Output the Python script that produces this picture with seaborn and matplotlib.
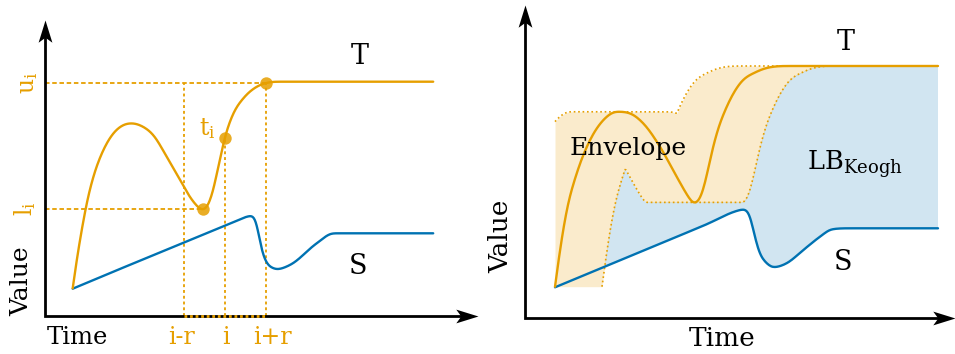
import numpy as np
import pandas as pd
import matplotlib
matplotlib.use("Agg")
import matplotlib.pyplot as plt
import seaborn as sns
from matplotlib.path import Path

# ---------------------------------------------------------------- data
# Left panel: query T and candidate S (time, value) key points
left_T_time = [27.7, 31.7, 36.7, 41.7, 48.3, 58.3, 68.3, 78.3, 86.7, 96.7, 108.3, 121.7, 135,
               148.3, 157.7, 163.3, 168.3, 173.3, 180, 188.3, 198.3, 211.7, 222.3, 235, 388]
left_T_value = [27.7, 56, 86, 113, 139.3, 166, 182.7, 191, 192.7, 190, 181, 159.3, 136,
                114.3, 106, 111, 126, 149.3, 179.3, 202.7, 217.7, 229.3, 233.3, 234.3, 234.3]
left_S_time = [27.7, 70, 110, 150, 190, 201.7, 206.7, 211.7, 215, 220, 228.3, 231.7, 245,
               271.7, 288.3, 388]
left_S_value = [27.3, 45, 61.5, 78, 94.5, 99.3, 100.3, 94.3, 72.7, 56, 47.7, 46.7, 51,
                72.7, 82.7, 82.7]
point_i = 180        # position i on the time axis
window_r = 41        # warping window radius r

# Right panel: query T and candidate S
right_T_time = [30, 35, 41.7, 51.7, 65, 78.3, 91.7, 105, 118.3, 135, 151.7, 163.3, 168.3,
                174.3, 180, 185, 191.7, 201.7, 215, 231.7, 248.3, 265, 413]
right_T_value = [31.3, 68, 108, 144.7, 178, 198, 206.3, 204.7, 194.7, 171.3, 141.3, 121.3, 114.7,
                 118, 134.7, 158, 184.7, 211.3, 234.7, 246.3, 251.3, 252, 252]
right_S_time = [30, 80, 130, 180, 215, 218.3, 225, 228.3, 233.3, 241.7, 248.3, 261.7, 278.3,
                295, 306.7, 325, 413]
right_S_value = [30.7, 51.5, 72.3, 93, 108, 108.7, 103, 88, 68, 54.7, 50.7, 54.7, 68,
                 81.3, 88.7, 89.7, 89.7]
envelope_r = 47

ORANGE = "#E69F00"
BLUE = "#0072B2"


def smooth(xk, yk, step=0.5, sigma=2.5):
    """Cubic Hermite curve through the key points, lightly rounded by a Gaussian kernel."""
    xk = np.asarray(xk, float)
    yk = np.asarray(yk, float)
    h = np.diff(xk)
    d = np.diff(yk) / h
    n = len(xk)
    m = np.zeros(n)
    for k in range(1, n - 1):
        s0, s1 = d[k - 1], d[k]
        if s0 * s1 <= 0:
            continue
        p = (s0 * h[k] + s1 * h[k - 1]) / (h[k - 1] + h[k])
        lim = 3 * min(abs(s0), abs(s1))
        m[k] = np.sign(p) * min(abs(p), lim)
    m[0] = 1.5 * d[0] - 0.5 * m[1]
    m[-1] = 1.5 * d[-1] - 0.5 * m[-2]
    if m[0] * d[0] < 0:
        m[0] = 0.0
    if m[-1] * d[-1] < 0:
        m[-1] = 0.0
    xs = np.arange(xk[0], xk[-1] + step / 2, step)
    idx = np.clip(np.searchsorted(xk, xs, side="right") - 1, 0, n - 2)
    t = (xs - xk[idx]) / h[idx]
    h00 = 2 * t**3 - 3 * t**2 + 1
    h10 = t**3 - 2 * t**2 + t
    h01 = -2 * t**3 + 3 * t**2
    h11 = t**3 - t**2
    ys = h00 * yk[idx] + h10 * h[idx] * m[idx] + h01 * yk[idx + 1] + h11 * h[idx] * m[idx + 1]
    # rounding kernel; odd reflection at the ends keeps the end points and slopes
    s = sigma / step
    half = int(np.ceil(3 * s))
    kern = np.exp(-0.5 * (np.arange(-half, half + 1) / s) ** 2)
    kern /= kern.sum()
    head = 2 * ys[0] - ys[half:0:-1]
    tail = 2 * ys[-1] - ys[-2:-half - 2:-1]
    ys = np.convolve(np.concatenate([head, ys, tail]), kern, mode="valid")
    return xs, ys


def envelope(xs, ys, r):
    step = xs[1] - xs[0]
    w = int(round(r / step))
    up = np.empty_like(ys)
    lo = np.empty_like(ys)
    for j in range(len(ys)):
        a, b = max(0, j - w), min(len(ys), j + w + 1)
        up[j] = ys[a:b].max()
        lo[j] = ys[a:b].min()
    return up, lo


# stealth-style arrow heads (tip at the marker origin)
HEAD_RIGHT = Path([(0, 0), (-2, 0.62), (-1.55, 0), (-2, -0.62), (0, 0)],
                  [Path.MOVETO, Path.LINETO, Path.LINETO, Path.LINETO, Path.CLOSEPOLY])
HEAD_UP = Path([(0, 0), (0.62, -2), (0, -1.55), (-0.62, -2), (0, 0)],
               [Path.MOVETO, Path.LINETO, Path.LINETO, Path.LINETO, Path.CLOSEPOLY])


def draw_frame(ax, xmax, ymax):
    ax.plot([0, 0, xmax - 10], [ymax - 10, 0, 0], color="black", lw=2.0,
            solid_joinstyle="miter", solid_capstyle="butt", clip_on=False, zorder=5)
    ax.plot([xmax], [0], marker=HEAD_RIGHT, ms=32, color="black", mew=0, clip_on=False, zorder=6)
    ax.plot([0], [ymax], marker=HEAD_UP, ms=32, color="black", mew=0, clip_on=False, zorder=6)
    ax.set_axis_off()


sns.set_style("white")
plt.rcParams["font.family"] = ["DejaVu Serif"]
plt.rcParams["mathtext.fontset"] = "dejavuserif"
plt.rcParams["text.color"] = "black"

fig = plt.figure(figsize=(9.55, 3.54), dpi=100)
axL = fig.add_axes([45 / 955, 38 / 354, 433 / 955, 296 / 354])
axR = fig.add_axes([525 / 955, 36 / 354, 430 / 955, 313 / 354])
axL.set_xlim(0, 433)
axL.set_ylim(0, 296)
axR.set_xlim(0, 430)
axR.set_ylim(0, 313)

# ---------------------------------------------------------------- left panel
lTx, lTy = smooth(left_T_time, left_T_value)
lSx, lSy = smooth(left_S_time, left_S_value)
left = pd.DataFrame({"time": lTx, "T": lTy})
win = left[(left.time >= point_i - window_r) & (left.time <= point_i + window_r)]
u_time, u_val = win.loc[win["T"].idxmax(), ["time", "T"]]
l_time, l_val = win.loc[win["T"].idxmin(), ["time", "T"]]
t_val = np.interp(point_i, lTx, lTy)

dash_h = dict(color=ORANGE, lw=1.3, dashes=(2.5, 1.5), zorder=2)
dash_v = dict(color=ORANGE, lw=1.3, dashes=(1.6, 1.6), zorder=2)
axL.plot([0, u_time], [u_val, u_val], **dash_h)
axL.plot([0, l_time], [l_val, l_val], **dash_h)
axL.plot([point_i - window_r] * 2, [0, u_val], **dash_v)
axL.plot([point_i] * 2, [0, t_val], **dash_v)
axL.plot([point_i + window_r] * 2, [0, u_val], **dash_v)

sns.lineplot(x=lSx, y=lSy, ax=axL, color=BLUE, lw=1.7, sort=False, estimator=None, zorder=3)
sns.lineplot(x=lTx, y=lTy, ax=axL, color=ORANGE, lw=1.7, sort=False, estimator=None, zorder=3)
sns.scatterplot(x=[l_time, point_i, u_time], y=[l_val, t_val, u_val], ax=axL,
                color=ORANGE, s=80, linewidth=0, alpha=0.85, zorder=4)

draw_frame(axL, 433, 296)
axL.plot([point_i - window_r, point_i + window_r], [0, 0], color=ORANGE, lw=2.0,
         dashes=(1.0, 1.0), clip_on=False, zorder=7)

axL.text(315, 259, "T", ha="center", va="center", fontsize=19.5)
axL.text(313, 50, "S", ha="center", va="center", fontsize=19.5)
axL.text(-23, 0, "Value", rotation=90, ha="center", va="bottom", fontsize=18)
axL.text(2, -28, "Time", ha="left", va="baseline", fontsize=17.5)
for x, lab in [(point_i - window_r - 3, "i-r"), (point_i + 1, "i"), (point_i + window_r + 6, "i+r")]:
    axL.text(x, -28, lab, ha="center", va="baseline", fontsize=17, color=ORANGE)
axL.text(-17, u_val, r"$\mathrm{u}_\mathrm{i}$", rotation=90, ha="center", va="center",
         fontsize=17, color=ORANGE)
axL.text(-20, l_val, r"$\mathrm{l}_\mathrm{i}$", rotation=90, ha="center", va="center",
         fontsize=17, color=ORANGE)
axL.text(point_i - 9, t_val + 9, r"$\mathrm{t}_\mathrm{i}$", ha="right", va="center",
         fontsize=17, color=ORANGE)

# ---------------------------------------------------------------- right panel
rTx, rTy = smooth(right_T_time, right_T_value, step=1.0)
rSx, rSy = smooth(right_S_time, right_S_value, step=1.0)
upper, lower = envelope(rTx, rTy, envelope_r)

axR.fill_between(rTx, lower, upper, color=ORANGE, alpha=0.2, lw=0, zorder=1)
axR.fill_between(rTx, rSy, lower, where=lower >= rSy, interpolate=True,
                 color=BLUE, alpha=0.18, lw=0, zorder=1)
sns.lineplot(x=rTx, y=upper, ax=axR, color=ORANGE, lw=1.2, linestyle=":",
             sort=False, estimator=None, zorder=2)
low_mask = rTx >= rTx[0] + envelope_r
sns.lineplot(x=rTx[low_mask], y=lower[low_mask], ax=axR, color=ORANGE, lw=1.2,
             linestyle=":", sort=False, estimator=None, zorder=2)
sns.lineplot(x=rSx, y=rSy, ax=axR, color=BLUE, lw=1.7, sort=False, estimator=None, zorder=3)
sns.lineplot(x=rTx, y=rTy, ax=axR, color=ORANGE, lw=1.7, sort=False, estimator=None, zorder=3)

draw_frame(axR, 430, 313)
axR.text(321, 276, "T", ha="center", va="center", fontsize=19.5)
axR.text(318, 55, "S", ha="center", va="center", fontsize=19.5)
axR.text(45, 163, "Envelope", ha="left", va="baseline", fontsize=18, zorder=4)
axR.text(282, 148, r"LB$_{\mathrm{Keogh}}$", ha="left", va="baseline", fontsize=18.5, zorder=4)
axR.text(-24, 82, "Value", rotation=90, ha="center", va="center", fontsize=19)
axR.text(197, -28, "Time", ha="center", va="baseline", fontsize=19)

fig.savefig("out.png", dpi=100)
